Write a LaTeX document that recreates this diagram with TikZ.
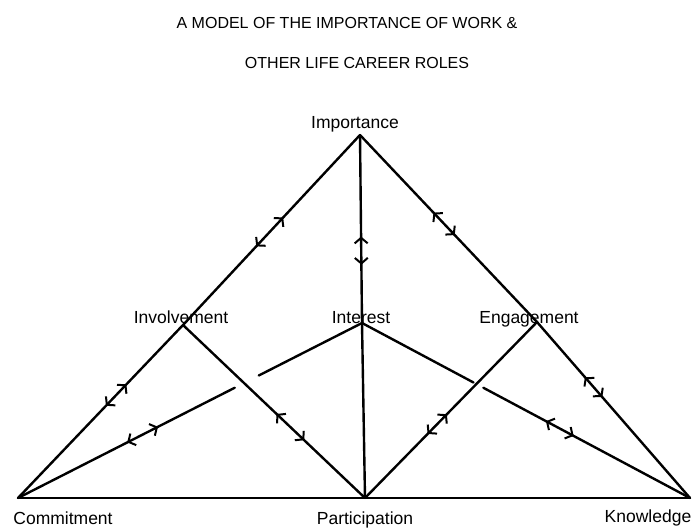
\documentclass[tikz,border=0pt]{standalone}
\usepackage{fontspec}
\setmainfont{Liberation Sans}
\usetikzlibrary{arrows.meta,calc,decorations.markings}
\begin{document}
\begin{tikzpicture}[x=1pt,y=-1pt,line width=2.4pt,line cap=round,
  every node/.style={font=\fontsize{17.5}{20}\selectfont,inner sep=0pt,anchor=base},
  twoway/.style 2 args={postaction={decorate,decoration={markings,
    mark=at position #1 with {\arrowreversed{Straight Barb[length=5.5pt,width=13pt,line width=2pt]}},
    mark=at position #2 with {\arrow{Straight Barb[length=5.5pt,width=13pt,line width=2pt]}}}}}]
  \useasboundingbox (0,0) rectangle (693,530);
  % title
  \node[font=\fontsize{16}{18}\selectfont] (ttl1) at (347,28) {A MODEL OF THE IMPORTANCE OF WORK \&};
  \node[font=\fontsize{16}{18}\selectfont] (ttl2) at (357,68) {OTHER LIFE CAREER ROLES};
  % corners of the model
  \coordinate (imp) at (360,135);
  \coordinate (inv) at (183,325);
  \coordinate (int) at (362,323);
  \coordinate (eng) at (537,322);
  \coordinate (com) at (18,498);
  \coordinate (par) at (365,498);
  \coordinate (kno) at (690,498);
  \node (limp) at (355,128) {Importance};
  \node (linv) at (181,323) {Involvement};
  \node (lint) at (361,323) {Interest};
  \node (leng) at (529,323) {Engagement};
  \node (lcom) at (63,524) {Commitment};
  \node (lpar) at (365,524) {Participation};
  \node (lkno) at (648,522) {Knowledge};
  % base line
  \draw (com) -- (kno);
  % upper links
  \draw[twoway={0.414}{0.566}] (inv) -- (imp);
  \draw[twoway={0.31}{0.46}] (int) -- (imp);
  \draw[twoway={0.465}{0.585}] (eng) -- (imp);
  % lower links
  \draw[twoway={0.533}{0.657}] (com) -- (inv);
  \draw[twoway={0.514}{0.666}] (inv) -- (par);
  \draw[twoway={0.364}{0.476}] (par) -- (eng);
  \draw[twoway={0.313}{0.427}] (eng) -- (kno);
  \draw (int) -- (par);
  % links to interest, broken where they cross
  \draw[twoway={0.504}{0.646}] (com) -- ($(com)!0.63!(int)$);
  \draw ($(com)!0.70!(int)$) -- (int);
  \draw (int) -- ($(int)!0.34!(kno)$);
  \draw[twoway={0.303}{0.437}] ($(int)!0.37!(kno)$) -- (kno);
\end{tikzpicture}
\end{document}
